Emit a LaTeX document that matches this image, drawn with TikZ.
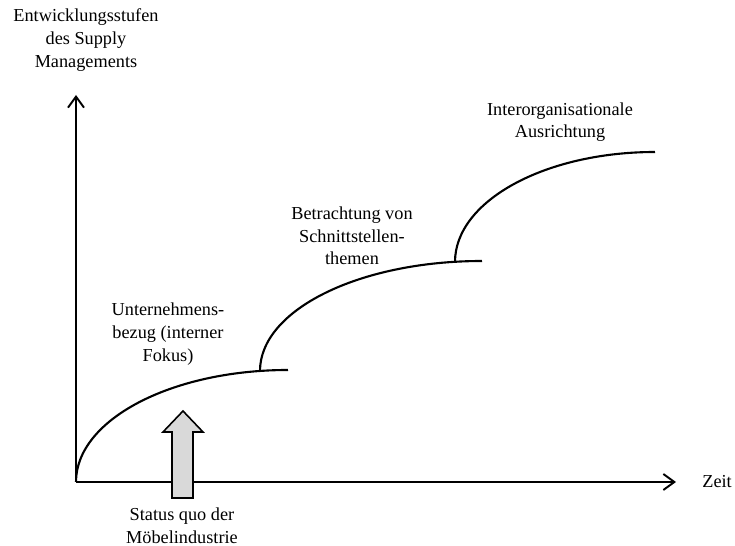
\documentclass[tikz,border=0pt]{standalone}
\usepackage{fontspec}
\setmainfont{Liberation Serif}
\usetikzlibrary{arrows.meta}

\begin{document}
\begin{tikzpicture}[
		x=0.02cm, y=-0.02cm,
		every node/.style={align=center, inner sep=0pt, font=\fontsize{10.4}{12.9}\selectfont},
		axis/.style={line width=1.1pt, -{Straight Barb[length=2.2mm, width=3.2mm, line width=1.1pt]}},
		stage/.style={line width=1.2pt}
	]
  \useasboundingbox (0,0) rectangle (735,546);
  % axes
  \coordinate (origin) at (76,482);
  \coordinate (y_end) at (76,95);
  \coordinate (x_end) at (676,482);
  \draw [axis] (origin) -- (y_end);
  \draw [axis] (origin) -- (x_end);
  \node (y_label) at (86,40) {Entwicklungsstufen\\des Supply\\Managements};
  \node (x_label) [anchor=west] at (702,482) {Zeit};
  % stages
  \coordinate (s1_start) at (76,482);
  \coordinate (s1_end) at (288,370);
  \coordinate (s2_start) at (260,371);
  \coordinate (s2_end) at (482,261);
  \coordinate (s3_start) at (455,262);
  \coordinate (s3_end) at (655,152);
  \draw [stage] (s1_start) .. controls (76,420) and (171,370) .. (s1_end);
  \draw [stage] (s2_start) .. controls (260,310) and (359,261) .. (s2_end);
  \draw [stage] (s3_start) .. controls (455,201) and (545,152) .. (s3_end);
  \node (s1_label) at (168,334) {Unternehmens-\\bezug (interner\\Fokus)};
  \node (s2_label) at (352,236) {Betrachtung von\\Schnittstellen-\\themen};
  \node (s3_label) at (560,122) {Interorganisationale\\Ausrichtung};
  % status quo
  \draw [line width=0.9pt, fill=gray!30] (172,498) -- (172,432) -- (163,432) -- (183,411)
    -- (203,432) -- (193,432) -- (193,498) -- cycle;
  \node (status_label) at (182,526) {Status quo der\\Möbelindustrie};
\end{tikzpicture}
\end{document}
